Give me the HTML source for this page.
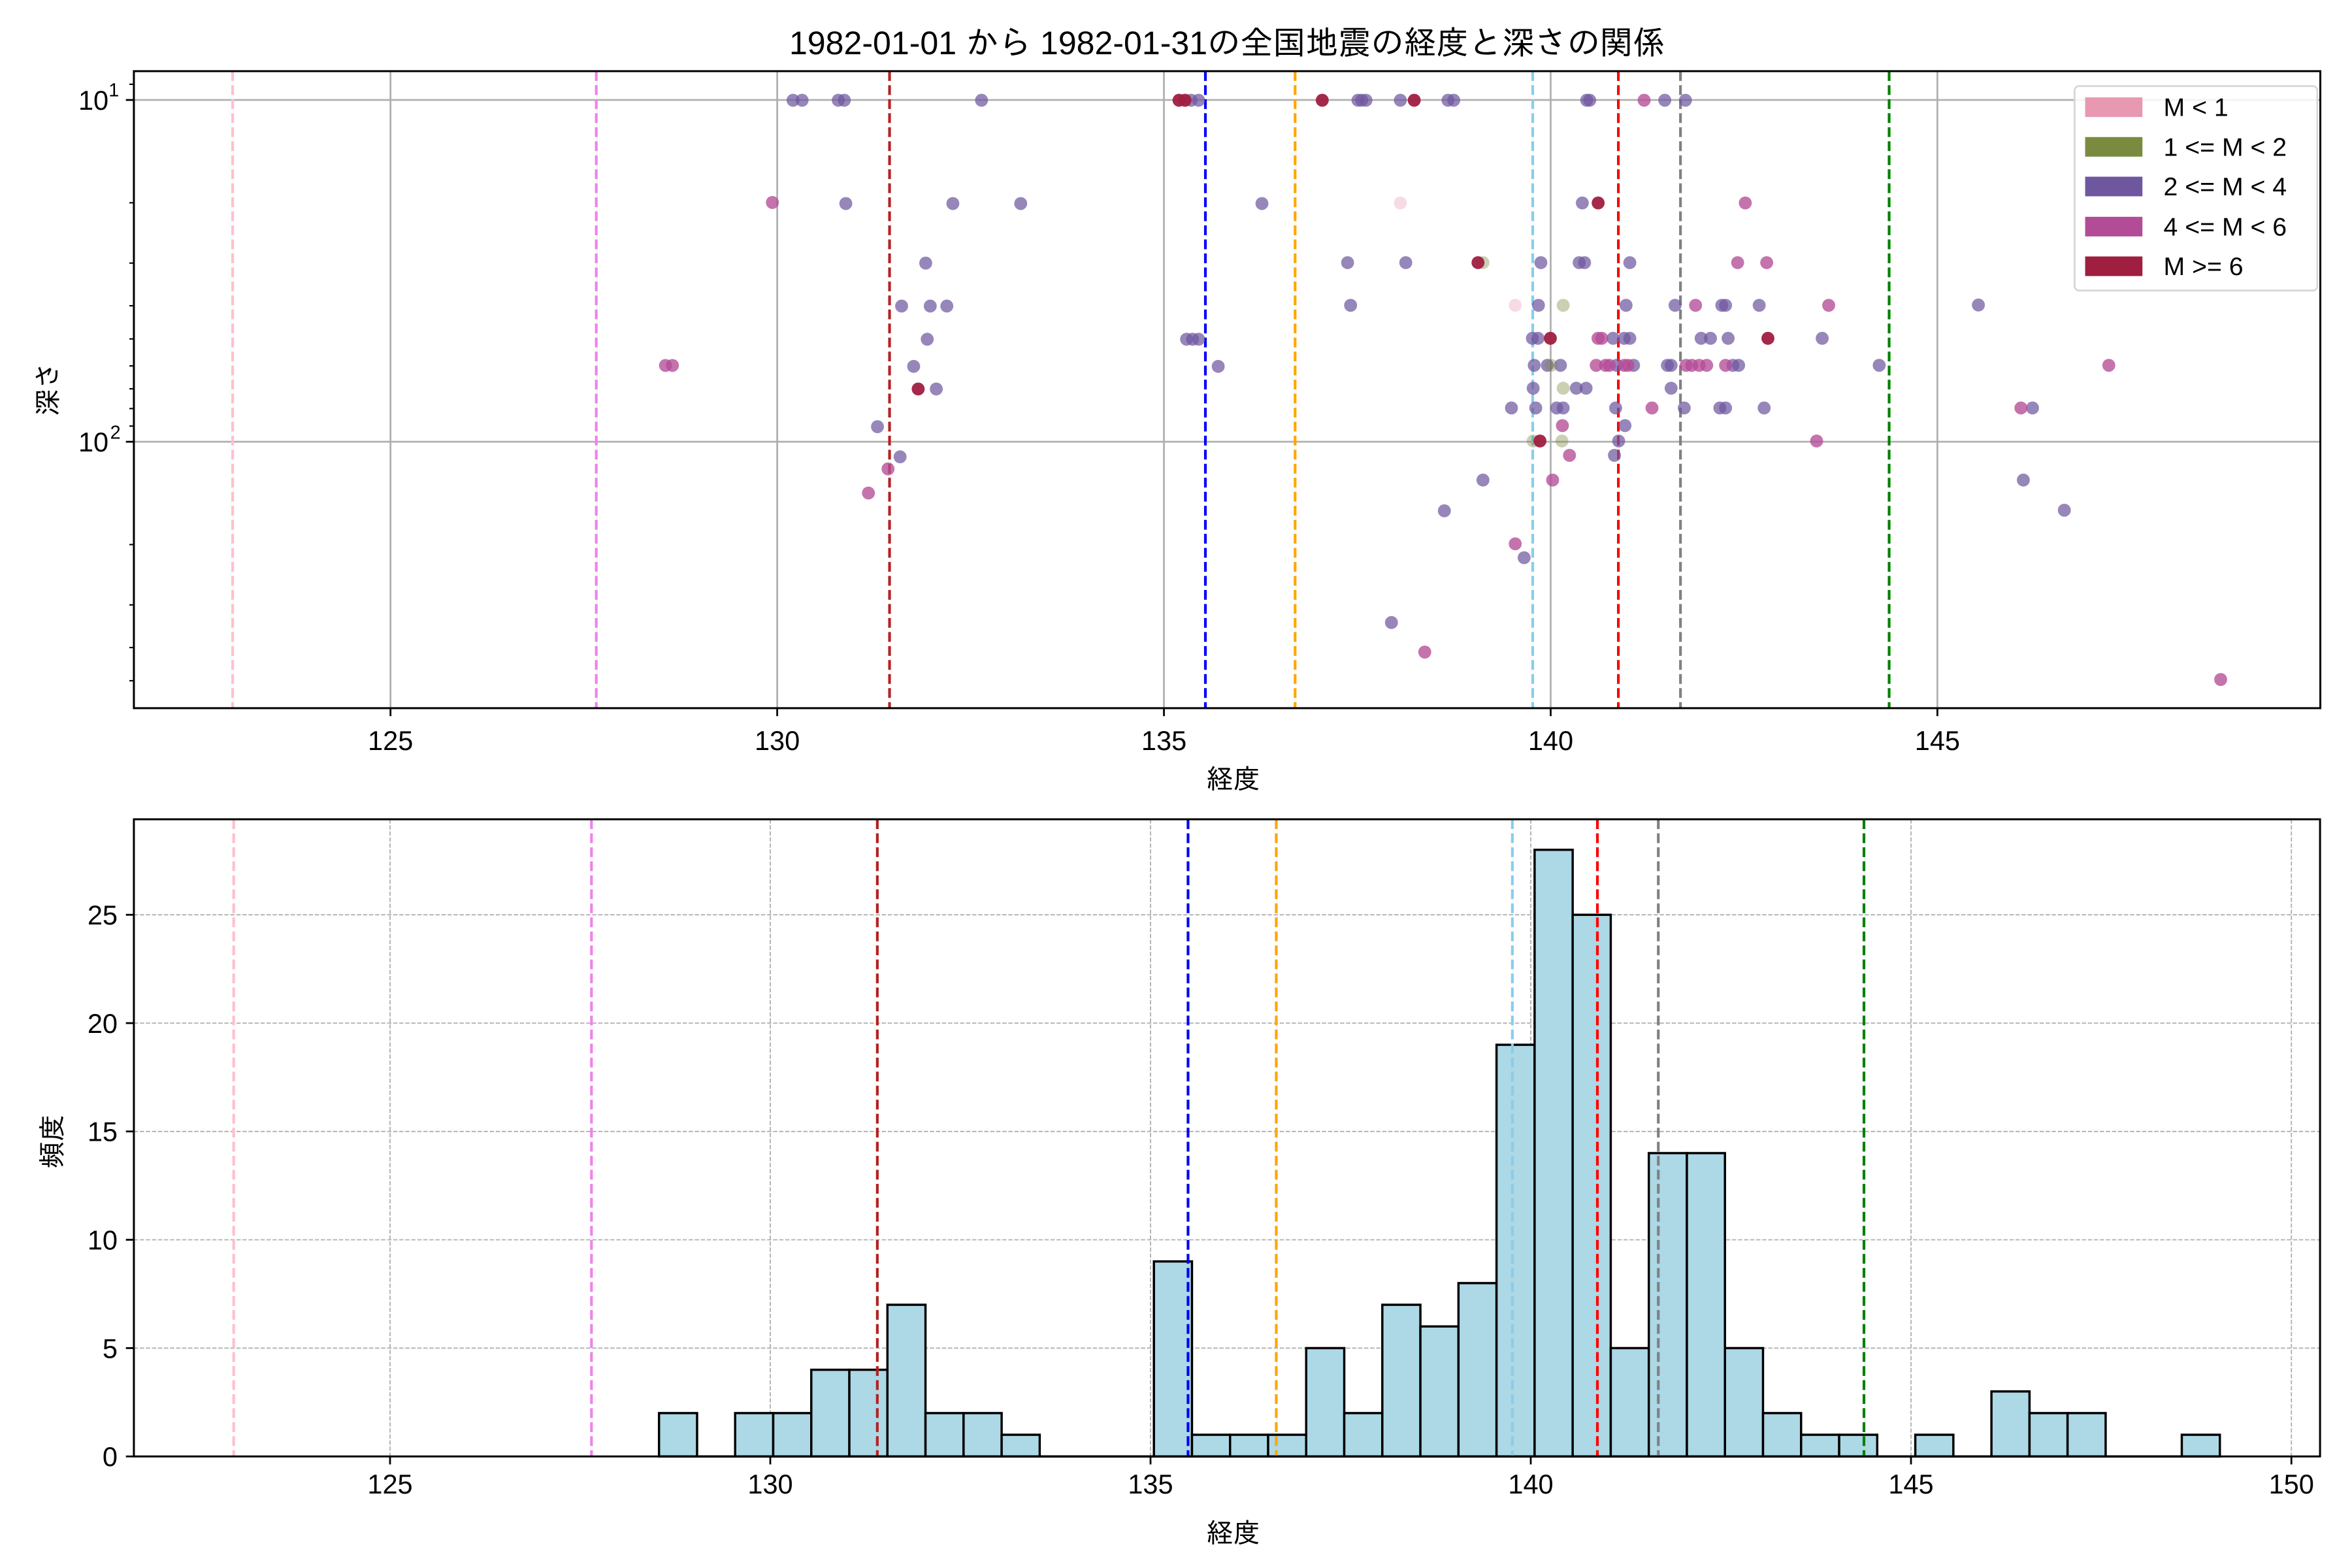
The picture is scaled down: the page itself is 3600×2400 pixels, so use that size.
<!DOCTYPE html>
<html><head><meta charset="utf-8"><style>html,body{margin:0;padding:0;background:#fff}svg{display:block}text{font-family:"Liberation Sans","IPAGothic","Noto Sans CJK JP",sans-serif;fill:#000}</style></head><body>
<svg width="3600" height="2400" viewBox="0 0 1560 1040" xmlns="http://www.w3.org/2000/svg">
<rect width="1560" height="1040" fill="#fff"/>
<text x="814" y="36" font-size="21.7" text-anchor="middle">1982-01-01 から 1982-01-31の全国地震の経度と深さの関係</text>
<defs><clipPath id="c1"><rect x="88.8" y="47.2" width="1450.2" height="422.5"/></clipPath></defs>
<g stroke="#b0b0b0" stroke-width="1.2">
<line x1="259" y1="47.2" x2="259" y2="469.7"/><line x1="515.5" y1="47.2" x2="515.5" y2="469.7"/><line x1="772" y1="47.2" x2="772" y2="469.7"/><line x1="1028.5" y1="47.2" x2="1028.5" y2="469.7"/><line x1="1285" y1="47.2" x2="1285" y2="469.7"/>
<line x1="88.8" y1="66.3" x2="1539" y2="66.3"/><line x1="88.8" y1="293" x2="1539" y2="293"/>
</g>
<g stroke-width="1.8" stroke-dasharray="6.5,2.8" fill="none">
<line x1="154.3" y1="47.2" x2="154.3" y2="469.7" stroke="#ffc0cb"/>
<line x1="395.5" y1="47.2" x2="395.5" y2="469.7" stroke="#ee82ee"/>
<line x1="590" y1="47.2" x2="590" y2="469.7" stroke="#b22222"/>
<line x1="799.5" y1="47.2" x2="799.5" y2="469.7" stroke="#0000ff"/>
<line x1="859" y1="47.2" x2="859" y2="469.7" stroke="#ffa500"/>
<line x1="1016.6" y1="47.2" x2="1016.6" y2="469.7" stroke="#87ceeb"/>
<line x1="1073.4" y1="47.2" x2="1073.4" y2="469.7" stroke="#ff0000"/>
<line x1="1114.6" y1="47.2" x2="1114.6" y2="469.7" stroke="#808080"/>
<line x1="1253" y1="47.2" x2="1253" y2="469.7" stroke="#008000"/>
</g>
<g clip-path="url(#c1)">
<g fill="#6f57a0" fill-opacity="0.72">
<circle cx="526" cy="66.5" r="4.3"/><circle cx="532" cy="66.5" r="4.3"/><circle cx="556" cy="66.5" r="4.3"/><circle cx="560" cy="66.5" r="4.3"/><circle cx="651" cy="66.5" r="4.3"/><circle cx="790" cy="66.5" r="4.3"/><circle cx="795" cy="66.5" r="4.3"/><circle cx="906" cy="66.5" r="4.3"/><circle cx="900.7" cy="66.5" r="4.3"/><circle cx="903.2" cy="66.5" r="4.3"/><circle cx="928.8" cy="66.5" r="4.3"/><circle cx="960.4" cy="66.5" r="4.3"/><circle cx="964.2" cy="66.5" r="4.3"/><circle cx="1052.4" cy="66.5" r="4.3"/><circle cx="1054.4" cy="66.5" r="4.3"/><circle cx="1104.2" cy="66.5" r="4.3"/><circle cx="1117.9" cy="66.5" r="4.3"/>
<circle cx="561" cy="135" r="4.3"/><circle cx="632" cy="135" r="4.3"/><circle cx="677" cy="135" r="4.3"/><circle cx="837" cy="135" r="4.3"/><circle cx="1049.5" cy="134.6" r="4.3"/>
<circle cx="614" cy="174.5" r="4.3"/><circle cx="893.8" cy="174.2" r="4.3"/><circle cx="932.4" cy="174.2" r="4.3"/><circle cx="1022" cy="174.2" r="4.3"/><circle cx="1047.4" cy="174.2" r="4.3"/><circle cx="1051" cy="174.2" r="4.3"/><circle cx="1081" cy="174.2" r="4.3"/>
<circle cx="598" cy="203" r="4.3"/><circle cx="617" cy="203" r="4.3"/><circle cx="628" cy="203" r="4.3"/><circle cx="895.8" cy="202.5" r="4.3"/><circle cx="1020.4" cy="202.5" r="4.3"/><circle cx="1078.5" cy="202.5" r="4.3"/><circle cx="1111" cy="202.5" r="4.3"/><circle cx="1142" cy="202.5" r="4.3"/><circle cx="1144.5" cy="202.5" r="4.3"/><circle cx="1166.8" cy="202.5" r="4.3"/><circle cx="1312.2" cy="202.3" r="4.3"/>
<circle cx="615" cy="225" r="4.3"/><circle cx="787" cy="225" r="4.3"/><circle cx="791" cy="225" r="4.3"/><circle cx="795" cy="225" r="4.3"/><circle cx="1016.4" cy="224.4" r="4.3"/><circle cx="1020.1" cy="224.4" r="4.3"/><circle cx="1069.9" cy="224.4" r="4.3"/><circle cx="1077.3" cy="224.4" r="4.3"/><circle cx="1081" cy="224.4" r="4.3"/><circle cx="1128.3" cy="224.4" r="4.3"/><circle cx="1134.5" cy="224.4" r="4.3"/><circle cx="1146.2" cy="224.4" r="4.3"/><circle cx="1208.6" cy="224.4" r="4.3"/>
<circle cx="606" cy="243" r="4.3"/><circle cx="808" cy="243" r="4.3"/><circle cx="1017.6" cy="242.3" r="4.3"/><circle cx="1026.3" cy="242.3" r="4.3"/><circle cx="1035" cy="242.3" r="4.3"/><circle cx="1072.3" cy="242.3" r="4.3"/><circle cx="1083.5" cy="242.3" r="4.3"/><circle cx="1105.9" cy="242.3" r="4.3"/><circle cx="1108.4" cy="242.3" r="4.3"/><circle cx="1149.4" cy="242.3" r="4.3"/><circle cx="1153.2" cy="242.3" r="4.3"/><circle cx="1246.4" cy="242.3" r="4.3"/>
<circle cx="621" cy="258" r="4.3"/><circle cx="1016.9" cy="257.5" r="4.3"/><circle cx="1045.5" cy="257.5" r="4.3"/><circle cx="1052" cy="257.5" r="4.3"/><circle cx="1108.4" cy="257.5" r="4.3"/>
<circle cx="1002.5" cy="270.6" r="4.3"/><circle cx="1018.6" cy="270.6" r="4.3"/><circle cx="1032.5" cy="270.6" r="4.3"/><circle cx="1036.8" cy="270.6" r="4.3"/><circle cx="1071.6" cy="270.6" r="4.3"/><circle cx="1117.1" cy="270.6" r="4.3"/><circle cx="1140.7" cy="270.6" r="4.3"/><circle cx="1144.5" cy="270.6" r="4.3"/><circle cx="1170.1" cy="270.6" r="4.3"/><circle cx="1348.1" cy="270.6" r="4.3"/>
<circle cx="582" cy="283" r="4.3"/><circle cx="1077.8" cy="282.3" r="4.3"/>
<circle cx="597" cy="303" r="4.3"/><circle cx="1073.6" cy="292.5" r="4.3"/><circle cx="1070.8" cy="302" r="4.3"/>
<circle cx="983.6" cy="318.4" r="4.3"/><circle cx="1342" cy="318.4" r="4.3"/><circle cx="958" cy="338.8" r="4.3"/><circle cx="1369.2" cy="338.4" r="4.3"/><circle cx="1010.9" cy="369.9" r="4.3"/><circle cx="922.9" cy="412.9" r="4.3"/>
</g>
<g fill="#b34c96" fill-opacity="0.78">
<circle cx="1090.5" cy="66.5" r="4.3"/><circle cx="512.3" cy="134.3" r="4.3"/><circle cx="1157.6" cy="134.6" r="4.3"/><circle cx="1152.5" cy="174.2" r="4.3"/><circle cx="1171.8" cy="174.2" r="4.3"/>
<circle cx="1124.6" cy="202.5" r="4.3"/><circle cx="1212.9" cy="202.5" r="4.3"/><circle cx="1059.9" cy="224.4" r="4.3"/><circle cx="1062.4" cy="224.4" r="4.3"/>
<circle cx="441.4" cy="242.4" r="4.3"/><circle cx="446" cy="242.4" r="4.3"/><circle cx="1058.7" cy="242.3" r="4.3"/><circle cx="1064.9" cy="242.3" r="4.3"/><circle cx="1067.4" cy="242.3" r="4.3"/><circle cx="1077.3" cy="242.3" r="4.3"/><circle cx="1079.8" cy="242.3" r="4.3"/><circle cx="1118.3" cy="242.3" r="4.3"/><circle cx="1122.1" cy="242.3" r="4.3"/><circle cx="1127" cy="242.3" r="4.3"/><circle cx="1132" cy="242.3" r="4.3"/><circle cx="1144.5" cy="242.3" r="4.3"/><circle cx="1398.7" cy="242.3" r="4.3"/>
<circle cx="1095.7" cy="270.6" r="4.3"/><circle cx="1340.4" cy="270.6" r="4.3"/><circle cx="1036.3" cy="282.3" r="4.3"/><circle cx="1204.9" cy="292.5" r="4.3"/><circle cx="1041" cy="302" r="4.3"/>
<circle cx="589" cy="311" r="4.3"/><circle cx="576" cy="327" r="4.3"/><circle cx="1029.8" cy="318.4" r="4.3"/><circle cx="1005" cy="360.7" r="4.3"/><circle cx="945" cy="432.5" r="4.3"/><circle cx="1472.9" cy="450.7" r="4.3"/>
</g>
<g fill="#7a8b40" fill-opacity="0.4">
<circle cx="983.6" cy="174.2" r="4.3"/><circle cx="1036.8" cy="202.5" r="4.3"/><circle cx="1028.8" cy="242.3" r="4.3"/><circle cx="1036.8" cy="257.5" r="4.3"/><circle cx="1016.9" cy="292.5" r="4.3"/><circle cx="1036" cy="292.5" r="4.3"/>
</g>
<g fill="#e899b1" fill-opacity="0.35">
<circle cx="928.8" cy="134.6" r="4.3"/><circle cx="1005" cy="202.5" r="4.3"/>
</g>
<g fill="#a01e40" fill-opacity="0.95">
<circle cx="782" cy="66.5" r="4.3"/><circle cx="786" cy="66.5" r="4.3"/><circle cx="877" cy="66.5" r="4.3"/><circle cx="938" cy="66.5" r="4.3"/><circle cx="1060" cy="134.6" r="4.3"/><circle cx="980.3" cy="174.2" r="4.3"/><circle cx="1028.3" cy="224.4" r="4.3"/><circle cx="1172.6" cy="224.4" r="4.3"/><circle cx="609" cy="258" r="4.3"/><circle cx="1021.4" cy="292.5" r="4.3"/>
</g>
</g>
<rect x="88.8" y="47.2" width="1450.2" height="422.5" fill="none" stroke="#000" stroke-width="1.3"/>
<g stroke="#000" stroke-width="1.2">
<line x1="259" y1="469.7" x2="259" y2="475"/><line x1="515.5" y1="469.7" x2="515.5" y2="475"/><line x1="772" y1="469.7" x2="772" y2="475"/><line x1="1028.5" y1="469.7" x2="1028.5" y2="475"/><line x1="1285" y1="469.7" x2="1285" y2="475"/>
<line x1="83.5" y1="66.3" x2="88.8" y2="66.3"/><line x1="83.5" y1="293" x2="88.8" y2="293"/>
</g>
<g stroke="#000" stroke-width="0.9">
<line x1="85.8" y1="55.9" x2="88.8" y2="55.9"/>
<line x1="85.8" y1="134.5" x2="88.8" y2="134.5"/><line x1="85.8" y1="174.5" x2="88.8" y2="174.5"/><line x1="85.8" y1="202.8" x2="88.8" y2="202.8"/><line x1="85.8" y1="224.8" x2="88.8" y2="224.8"/><line x1="85.8" y1="242.7" x2="88.8" y2="242.7"/><line x1="85.8" y1="257.9" x2="88.8" y2="257.9"/><line x1="85.8" y1="271" x2="88.8" y2="271"/><line x1="85.8" y1="282.6" x2="88.8" y2="282.6"/>
<line x1="85.8" y1="361.2" x2="88.8" y2="361.2"/><line x1="85.8" y1="401.2" x2="88.8" y2="401.2"/><line x1="85.8" y1="429.5" x2="88.8" y2="429.5"/><line x1="85.8" y1="451.5" x2="88.8" y2="451.5"/>
</g>
<g font-size="18" text-anchor="middle">
<text x="259" y="497.5">125</text><text x="515.5" y="497.5">130</text><text x="772" y="497.5">135</text><text x="1028.5" y="497.5">140</text><text x="1285" y="497.5">145</text>
<text x="818" y="523">経度</text>
</g>
<g font-size="18" text-anchor="end">
<text x="72" y="72.8">10</text><text x="79" y="64" font-size="12.5">1</text>
<text x="72" y="299.5">10</text><text x="80" y="291" font-size="12.5">2</text>
</g>
<text font-size="18" text-anchor="middle" transform="translate(38,258) rotate(-90)">深さ</text>
<rect x="1376" y="57.1" width="161" height="135.6" rx="3" fill="#fff" fill-opacity="0.85" stroke="#d6d6d6" stroke-width="1.2"/>
<rect x="1383" y="64.6" width="38" height="13" fill="#e899b1"/>
<rect x="1383" y="90.9" width="38" height="13" fill="#7a8b40"/>
<rect x="1383" y="117.2" width="38" height="13" fill="#6f57a0"/>
<rect x="1383" y="143.8" width="38" height="13" fill="#b34c96"/>
<rect x="1383" y="170.1" width="38" height="13" fill="#a01e40"/>
<g font-size="17">
<text x="1435" y="77">M &lt; 1</text><text x="1435" y="103.3">1 &lt;= M &lt; 2</text><text x="1435" y="129.6">2 &lt;= M &lt; 4</text><text x="1435" y="156.2">4 &lt;= M &lt; 6</text><text x="1435" y="182.5">M &gt;= 6</text>
</g>
<g stroke="#b0b0b0" stroke-width="0.8" stroke-dasharray="2.8,1.2">
<line x1="258.7" y1="543.4" x2="258.7" y2="966"/><line x1="510.9" y1="543.4" x2="510.9" y2="966"/><line x1="763.1" y1="543.4" x2="763.1" y2="966"/><line x1="1015.3" y1="543.4" x2="1015.3" y2="966"/><line x1="1267.5" y1="543.4" x2="1267.5" y2="966"/><line x1="1519.8" y1="543.4" x2="1519.8" y2="966"/>
<line x1="88.8" y1="894.15" x2="1538.8" y2="894.15"/><line x1="88.8" y1="822.3" x2="1538.8" y2="822.3"/><line x1="88.8" y1="750.45" x2="1538.8" y2="750.45"/><line x1="88.8" y1="678.6" x2="1538.8" y2="678.6"/><line x1="88.8" y1="606.75" x2="1538.8" y2="606.75"/>
</g>
<g fill="#add8e6" stroke="#000" stroke-width="1.5">
<rect x="437.1" y="937.26" width="25.25" height="28.74"/>
<rect x="487.6" y="937.26" width="25.25" height="28.74"/>
<rect x="512.85" y="937.26" width="25.25" height="28.74"/>
<rect x="538.1" y="908.52" width="25.25" height="57.48"/>
<rect x="563.35" y="908.52" width="25.25" height="57.48"/>
<rect x="588.6" y="865.41" width="25.25" height="100.59"/>
<rect x="613.85" y="937.26" width="25.25" height="28.74"/>
<rect x="639.1" y="937.26" width="25.25" height="28.74"/>
<rect x="664.35" y="951.63" width="25.25" height="14.37"/>
<rect x="765.35" y="836.67" width="25.25" height="129.33"/>
<rect x="790.6" y="951.63" width="25.25" height="14.37"/>
<rect x="815.85" y="951.63" width="25.25" height="14.37"/>
<rect x="841.1" y="951.63" width="25.25" height="14.37"/>
<rect x="866.35" y="894.15" width="25.25" height="71.85"/>
<rect x="891.6" y="937.26" width="25.25" height="28.74"/>
<rect x="916.85" y="865.41" width="25.25" height="100.59"/>
<rect x="942.1" y="879.78" width="25.25" height="86.22"/>
<rect x="967.35" y="851.04" width="25.25" height="114.96"/>
<rect x="992.6" y="692.97" width="25.25" height="273.03"/>
<rect x="1017.85" y="563.64" width="25.25" height="402.36"/>
<rect x="1043.1" y="606.75" width="25.25" height="359.25"/>
<rect x="1068.35" y="894.15" width="25.25" height="71.85"/>
<rect x="1093.6" y="764.82" width="25.25" height="201.18"/>
<rect x="1118.85" y="764.82" width="25.25" height="201.18"/>
<rect x="1144.1" y="894.15" width="25.25" height="71.85"/>
<rect x="1169.35" y="937.26" width="25.25" height="28.74"/>
<rect x="1194.6" y="951.63" width="25.25" height="14.37"/>
<rect x="1219.85" y="951.63" width="25.25" height="14.37"/>
<rect x="1270.35" y="951.63" width="25.25" height="14.37"/>
<rect x="1320.85" y="922.89" width="25.25" height="43.11"/>
<rect x="1346.1" y="937.26" width="25.25" height="28.74"/>
<rect x="1371.35" y="937.26" width="25.25" height="28.74"/>
<rect x="1447.1" y="951.63" width="25.25" height="14.37"/>
</g>
<line x1="437.1" y1="966" x2="1472.35" y2="966" stroke="#000" stroke-width="1.5"/>
<g stroke-width="1.8" stroke-dasharray="6.5,2.8" fill="none">
<line x1="155" y1="543.4" x2="155" y2="966" stroke="#ffc0cb"/>
<line x1="392.3" y1="543.4" x2="392.3" y2="966" stroke="#ee82ee"/>
<line x1="581.9" y1="543.4" x2="581.9" y2="966" stroke="#b22222"/>
<line x1="788" y1="543.4" x2="788" y2="966" stroke="#0000ff"/>
<line x1="846.5" y1="543.4" x2="846.5" y2="966" stroke="#ffa500"/>
<line x1="1003.1" y1="543.4" x2="1003.1" y2="966" stroke="#87ceeb"/>
<line x1="1059.5" y1="543.4" x2="1059.5" y2="966" stroke="#ff0000"/>
<line x1="1099.9" y1="543.4" x2="1099.9" y2="966" stroke="#808080"/>
<line x1="1236.3" y1="543.4" x2="1236.3" y2="966" stroke="#008000"/>
</g>
<rect x="88.8" y="543.4" width="1450" height="422.6" fill="none" stroke="#000" stroke-width="1.3"/>
<g stroke="#000" stroke-width="1.2">
<line x1="258.7" y1="966" x2="258.7" y2="971.3"/><line x1="510.9" y1="966" x2="510.9" y2="971.3"/><line x1="763.1" y1="966" x2="763.1" y2="971.3"/><line x1="1015.3" y1="966" x2="1015.3" y2="971.3"/><line x1="1267.5" y1="966" x2="1267.5" y2="971.3"/><line x1="1519.8" y1="966" x2="1519.8" y2="971.3"/>
<line x1="83.5" y1="966" x2="88.8" y2="966"/><line x1="83.5" y1="894.15" x2="88.8" y2="894.15"/><line x1="83.5" y1="822.3" x2="88.8" y2="822.3"/><line x1="83.5" y1="750.45" x2="88.8" y2="750.45"/><line x1="83.5" y1="678.6" x2="88.8" y2="678.6"/><line x1="83.5" y1="606.75" x2="88.8" y2="606.75"/>
</g>
<g font-size="18" text-anchor="middle">
<text x="258.7" y="990.5">125</text><text x="510.9" y="990.5">130</text><text x="763.1" y="990.5">135</text><text x="1015.3" y="990.5">140</text><text x="1267.5" y="990.5">145</text><text x="1519.8" y="990.5">150</text>
<text x="818" y="1023">経度</text>
</g>
<g font-size="18" text-anchor="end">
<text x="78" y="972.5">0</text><text x="78" y="900.6">5</text><text x="78" y="828.8">10</text><text x="78" y="756.9">15</text><text x="78" y="685.1">20</text><text x="78" y="613.2">25</text>
</g>
<text font-size="18" text-anchor="middle" transform="translate(41,757) rotate(-90)">頻度</text>
</svg>
</body></html>
